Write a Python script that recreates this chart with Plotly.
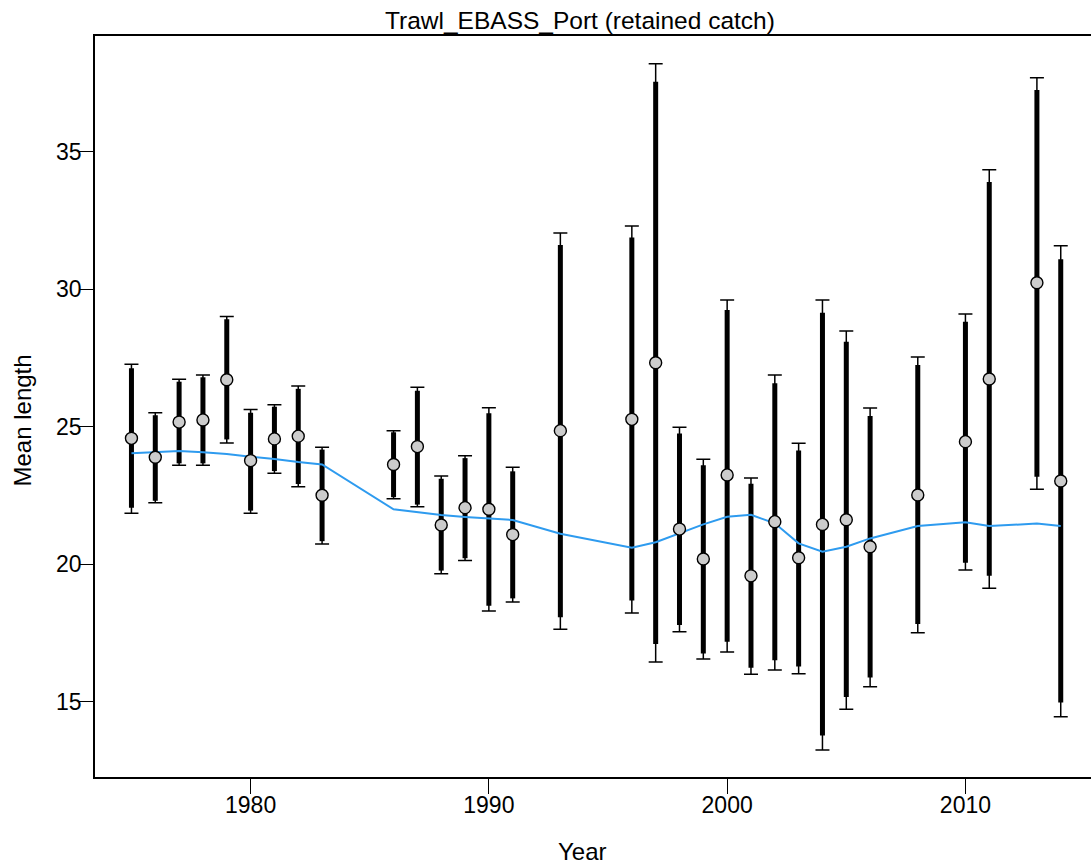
import plotly.graph_objects as go

# Survey years with length composition data
years = [1975, 1976, 1977, 1978, 1979, 1980, 1981, 1982, 1983, 1986, 1987,
         1988, 1989, 1990, 1991, 1993, 1996, 1997, 1998, 1999, 2000, 2001,
         2002, 2003, 2004, 2005, 2006, 2008, 2010, 2011, 2013, 2014]

# Observed mean length
obs_mean = [24.57, 23.88, 25.16, 25.24, 26.70, 23.76, 24.55, 24.65, 22.50,
            23.62, 24.27, 21.42, 22.05, 21.99, 21.07, 24.85, 25.26, 27.32,
            21.27, 20.18, 23.24, 19.57, 21.54, 20.23, 21.44, 21.61, 20.63,
            22.51, 24.45, 26.73, 30.23, 23.02]

# Expected mean length from the model
exp_mean = [24.03, 24.08, 24.11, 24.06, 24.00, 23.90, 23.82, 23.71, 23.62,
            21.99, 21.89, 21.78, 21.71, 21.65, 21.60, 21.10, 20.59, 20.79,
            21.12, 21.44, 21.72, 21.79, 21.48, 20.75, 20.45, 20.63, 20.93,
            21.38, 21.52, 21.38, 21.47, 21.38]

# Interval based on input sample size (thick bars)
inner_lo = [22.05, 22.30, 23.66, 23.66, 24.53, 21.94, 23.38, 22.91, 20.83,
            22.43, 22.16, 19.76, 20.21, 18.48, 18.75, 18.06, 18.67, 17.09,
            17.78, 16.75, 17.17, 16.23, 16.50, 16.27, 13.76, 15.16, 15.87,
            17.82, 20.05, 19.57, 23.17, 14.96]
inner_hi = [27.12, 25.41, 26.63, 26.79, 28.90, 25.50, 25.72, 26.37, 24.16,
            24.79, 26.30, 23.10, 23.85, 25.48, 23.37, 31.60, 31.87, 37.54,
            24.75, 23.59, 29.24, 22.92, 26.57, 24.13, 29.14, 28.08, 25.38,
            27.24, 28.81, 33.89, 37.24, 31.08]

# Interval after variance adjustment (thin bars with caps)
outer_lo = [21.85, 22.23, 23.59, 23.59, 24.40, 21.85, 23.30, 22.81, 20.73,
            22.37, 22.08, 19.65, 20.13, 18.29, 18.62, 17.63, 18.22, 16.44,
            17.54, 16.55, 16.80, 15.99, 16.15, 16.01, 13.24, 14.72, 15.54,
            17.50, 19.78, 19.12, 22.72, 14.45]
outer_hi = [27.26, 25.50, 26.72, 26.87, 29.00, 25.62, 25.79, 26.47, 24.25,
            24.85, 26.43, 23.20, 23.94, 25.68, 23.52, 32.04, 32.29, 38.19,
            24.97, 23.81, 29.60, 23.13, 26.87, 24.39, 29.60, 28.47, 25.67,
            27.53, 29.09, 34.34, 37.68, 31.57]

y_ticks = [15, 20, 25, 30, 35]
x_ticks = [1980, 1990, 2000, 2010]

FONT = "Arial, Liberation Sans, sans-serif"
invisible = dict(size=1, color="rgba(0,0,0,0)")

fig = go.Figure()

# Thin outer interval with caps
fig.add_trace(go.Scatter(
    x=years, y=obs_mean, mode="markers", marker=invisible,
    error_y=dict(type="data", symmetric=False,
                 array=[h - m for h, m in zip(outer_hi, obs_mean)],
                 arrayminus=[m - l for m, l in zip(obs_mean, outer_lo)],
                 color="black", thickness=1.5, width=7),
    hoverinfo="skip", showlegend=False))

# Thick inner interval
fig.add_trace(go.Scatter(
    x=years, y=obs_mean, mode="markers", marker=invisible,
    error_y=dict(type="data", symmetric=False,
                 array=[h - m for h, m in zip(inner_hi, obs_mean)],
                 arrayminus=[m - l for m, l in zip(obs_mean, inner_lo)],
                 color="black", thickness=5, width=0),
    hoverinfo="skip", showlegend=False))

# Expected values
fig.add_trace(go.Scatter(
    x=years, y=exp_mean, mode="lines",
    line=dict(color="#2E9BEF", width=2),
    showlegend=False))

# Observed points
fig.add_trace(go.Scatter(
    x=years, y=obs_mean, mode="markers",
    marker=dict(size=12, color="#CCCCCC", line=dict(color="black", width=1.4)),
    showlegend=False))

fig.update_layout(
    width=1091, height=865,
    margin=dict(l=95, r=0, t=36, b=88),
    paper_bgcolor="white", plot_bgcolor="white",
    font=dict(family=FONT, size=23, color="black"),
    xaxis=dict(range=[1973.47, 2015.27], tickvals=x_ticks,
               showgrid=False, zeroline=False,
               showline=True, linecolor="black", linewidth=1.6, mirror=True,
               ticks="outside", ticklen=15, tickwidth=1.3, tickcolor="black",
               tickfont=dict(size=23), ticklabelstandoff=-8),
    yaxis=dict(range=[12.255, 39.2], tickvals=y_ticks,
               showgrid=False, zeroline=False,
               showline=True, linecolor="black", linewidth=1.6,
               ticks="outside", ticklen=14, tickwidth=1.3, tickcolor="black",
               tickfont=dict(size=23), ticklabelstandoff=-7),
    annotations=[
        dict(text="Trawl_EBASS_Port (retained catch)", xref="paper", yref="paper",
             x=0.487, y=1.0205, xanchor="center", yanchor="middle",
             showarrow=False, font=dict(size=24.5)),
        dict(text="Year", xref="paper", yref="paper",
             x=0.489, y=-0.0999, xanchor="center", yanchor="middle",
             showarrow=False, font=dict(size=24)),
        dict(text="Mean length", xref="paper", yref="paper",
             x=-0.0728, y=0.4818, xanchor="center", yanchor="middle",
             textangle=-90, showarrow=False, font=dict(size=24)),
    ],
)

fig.write_html("out.html")
